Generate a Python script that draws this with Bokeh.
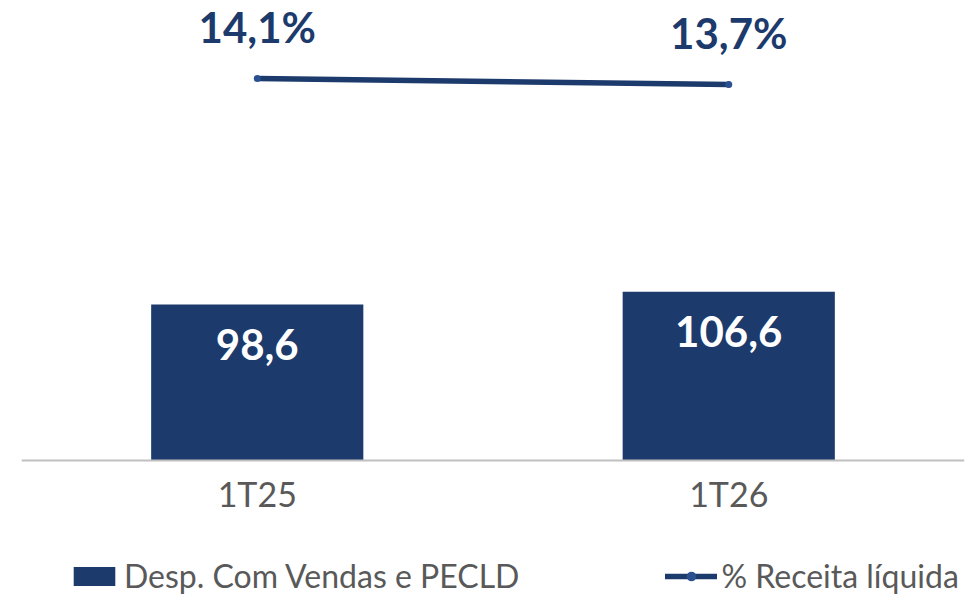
from bokeh.plotting import figure
from bokeh.models import ColumnDataSource, Range1d, FactorRange, Legend, LegendItem, Span
from bokeh.core.properties import value
from bokeh.embed import file_html
from bokeh.resources import INLINE

# ---- data ----
categories = ["1T25", "1T26"]
despesas = [98.6, 106.6]            # Desp. Com Vendas e PECLD
pct_receita = [14.1, 13.7]          # % Receita líquida
bar_name = "Desp. Com Vendas e PECLD"
line_name = "% Receita líquida"

NAVY = "#1c3a6b"
GREY = "#595959"

def br(v):
    return f"{v:.1f}".replace(".", ",")

src = ColumnDataSource(dict(
    cat=categories,
    val=despesas,
    val_lbl=[br(v) for v in despesas],
    zero=[0] * len(categories),
    pct=pct_receita,
    pct_lbl=[br(v) + "%" for v in pct_receita],
))

p = figure(
    width=969, height=595,
    x_range=FactorRange(*categories, range_padding=0),
    y_range=Range1d(-85.3, 290.6),
    output_backend="svg", toolbar_location=None,
    x_axis_location=None, y_axis_location=None,
    min_border_left=21, min_border_right=5, min_border_top=0, min_border_bottom=0,
)
p.extra_y_ranges = {"pct": Range1d(-20.367, 19.3)}
p.outline_line_color = None
p.xgrid.visible = False
p.ygrid.visible = False
p.background_fill_color = "white"
p.border_fill_color = "white"

# baseline (category axis line)
p.add_layout(Span(location=0, dimension="width", line_color="#c0c0c0", line_width=2))

bars = p.vbar(x="cat", top="val", width=0.45, source=src, fill_color=NAVY, line_color=None)

line = p.line(x="cat", y="pct", source=src, y_range_name="pct",
              line_color=NAVY, line_width=5.5, line_cap="round")
dots = p.scatter(x="cat", y="pct", source=src, y_range_name="pct",
                 size=7, fill_color="#2a5090", line_color=None)

# value labels inside bars
p.text(x="cat", y="val", text="val_lbl", source=src,
       text_font=value("Lato"), text_font_style="bold", text_font_size="42px",
       text_color="white", text_align="center", text_baseline="alphabetic", y_offset=40)

# % labels above line
p.text(x="cat", y="pct", text="pct_lbl", source=src, y_range_name="pct",
       text_font=value("Lato"), text_font_style="bold", text_font_size="42px",
       text_color=NAVY, text_align="center", text_baseline="alphabetic", y_offset=-51)

# category labels under the baseline
p.text(x="cat", y="zero", text="cat", source=src,
       text_font=value("Lato"), text_font_size="34px",
       text_color=GREY, text_align="center", text_baseline="alphabetic", y_offset=33)

legend = Legend(
    items=[LegendItem(label=bar_name, renderers=[bars]),
           LegendItem(label=line_name, renderers=[line, dots])],
    orientation="horizontal",
    location=(47, 0),
    glyph_width=52, glyph_height=24,
    label_standoff=4, spacing=146,
    padding=0, margin=0,
    border_line_color=None, background_fill_alpha=0,
    label_text_font="Lato", label_text_font_size="32px", label_text_color=GREY,
)
p.add_layout(legend, "center")

open("out.html", "w").write(file_html(p, INLINE))
